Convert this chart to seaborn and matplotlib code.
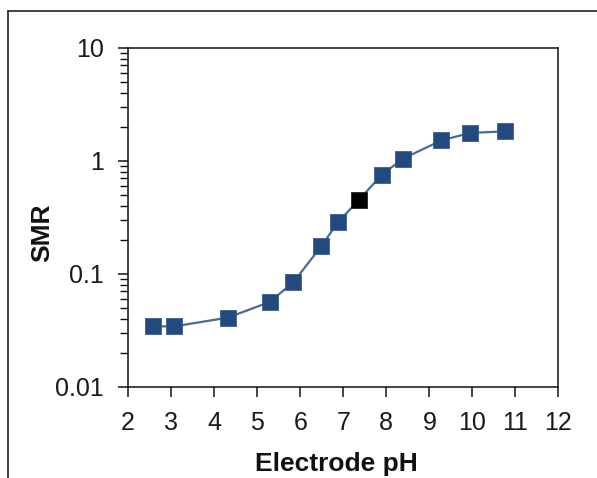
import matplotlib
matplotlib.use("Agg")
import matplotlib.pyplot as plt
import matplotlib.ticker as mticker
from matplotlib.lines import Line2D
import seaborn as sns
import pandas as pd

ph = [2.57, 3.08, 4.32, 5.29, 5.84, 6.49, 6.88, 7.37, 7.89, 8.39, 9.28, 9.94, 10.76]
smr = [0.0344, 0.0344, 0.0411, 0.0565, 0.0844, 0.176, 0.288, 0.455, 0.752, 1.05, 1.52, 1.77, 1.83]
highlight = [False, False, False, False, False, False, False, True, False, False, False, False, False]
x_ticks = [2, 3, 4, 5, 6, 7, 8, 9, 10, 11, 12]
y_ticks = [0.01, 0.1, 1, 10]
y_tick_labels = ["0.01", "0.1", "1", "10"]

df = pd.DataFrame({"ph": ph, "smr": smr, "hl": highlight})

sns.set_theme(style="white")
plt.rcParams["font.family"] = ["Liberation Sans", "DejaVu Sans"]

fig = plt.figure(figsize=(5.97, 4.78), dpi=100)
ax = fig.add_axes([0.2144, 0.1904, 0.7211, 0.7092])

sns.lineplot(data=df, x="ph", y="smr", ax=ax, color="#4A6A96", linewidth=1.6, zorder=2)
sns.scatterplot(data=df[~df["hl"]], x="ph", y="smr", ax=ax, marker="s", s=135,
                color="#224A7E", edgecolor="#3A5E8E", linewidth=0.6, zorder=3)
sns.scatterplot(data=df[df["hl"]], x="ph", y="smr", ax=ax, marker="s", s=135,
                color="#000000", edgecolor="#222222", linewidth=0.6, zorder=4)

ax.set_yscale("log")
ax.set_xlim(2, 12)
ax.set_ylim(0.01, 10)
ax.set_xticks(x_ticks)
ax.set_xticklabels([str(t) for t in x_ticks])
ax.set_yticks(y_ticks)
ax.set_yticklabels(y_tick_labels)
ax.yaxis.set_minor_locator(mticker.LogLocator(base=10, subs=range(2, 10)))
ax.yaxis.set_minor_formatter(mticker.NullFormatter())

for s in ax.spines.values():
    s.set_color("#111111")
    s.set_linewidth(1.1)

ax.tick_params(axis="both", which="major", direction="out", length=7, width=1.1,
               color="#111111", labelsize=18, labelcolor="#1a1a1a")
ax.tick_params(axis="x", which="major", pad=10.5, bottom=True, top=False)
ax.tick_params(axis="y", which="major", pad=10.5, left=True, right=False)
ax.tick_params(axis="y", which="minor", direction="out", length=6, width=1.0,
               color="#111111", left=True, right=False)

ax.set_xlabel("Electrode pH", fontsize=19, fontweight="bold", color="#111111")
ax.set_ylabel("SMR", fontsize=19, fontweight="bold", color="#111111")
ax.xaxis.set_label_coords(0.484, -0.192)
ax.yaxis.set_label_coords(-0.171, 0.454)

# outer frame (cropped at right and bottom)
fig.add_artist(Line2D([7.6 / 597, 7.6 / 597], [0, 1 - 11 / 478], transform=fig.transFigure,
                      color="#222222", linewidth=1.2))
fig.add_artist(Line2D([7.6 / 597, 1.0], [1 - 11 / 478, 1 - 11 / 478], transform=fig.transFigure,
                      color="#222222", linewidth=1.2))

fig.savefig("out.png", dpi=100)
